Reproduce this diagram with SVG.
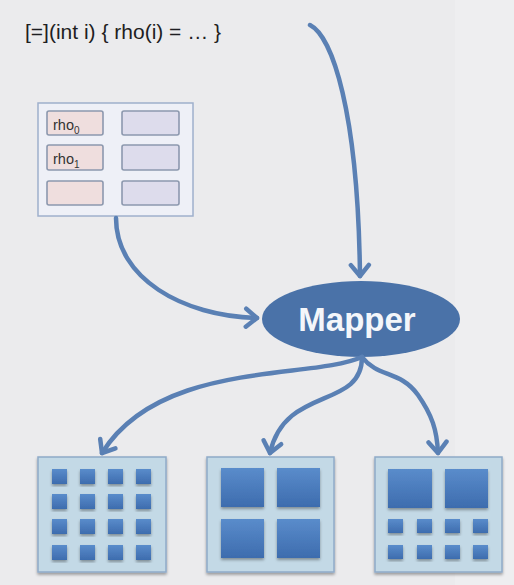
<svg xmlns="http://www.w3.org/2000/svg" width="514" height="585" viewBox="0 0 514 585">
  <defs>
    <style>
      .code { font-family: "Liberation Sans", Arial, sans-serif; font-size: 21px; fill: #1e1e22; }
      .cell-label { font-family: "Liberation Sans", Arial, sans-serif; font-size: 14.5px; fill: #333; }
      .sub { font-size: 10px; }
      .mapper-label { font-family: "Liberation Sans", Arial, sans-serif; font-size: 33px; font-weight: bold; fill: #f4f6fa; }
      .edge { fill: none; stroke: #5a80b4; stroke-width: 4.5; stroke-linecap: round; marker-end: url(#chevron); }
      .table-frame { fill: #eef0f7; stroke: #9fb0cc; stroke-width: 1.5; }
      .cell-a { fill: #efdede; stroke: #8c98ae; stroke-width: 1.6; }
      .cell-b { fill: #dddcec; stroke: #8c98ae; stroke-width: 1.6; }
      .grid { fill: #c3d9e6; stroke: #8faac8; stroke-width: 1.5; filter: url(#soft); }
      .tile { fill: url(#tileFill); filter: url(#soft); }
    </style>
    <marker id="chevron" viewBox="-14 -12 18 24" markerWidth="18" markerHeight="24" refX="0" refY="0" orient="auto" markerUnits="userSpaceOnUse">
      <path d="M-11,-9 L0,0 L-11,9" fill="none" stroke="#5a80b4" stroke-width="4.5" stroke-linecap="round" stroke-linejoin="round"/>
    </marker>
    <linearGradient id="tileFill" x1="0" y1="0" x2="0" y2="1">
      <stop offset="0" stop-color="#5a8ccb"/>
      <stop offset="1" stop-color="#3d6cae"/>
    </linearGradient>
    <filter id="soft" x="-20%" y="-20%" width="140%" height="140%">
      <feGaussianBlur in="SourceAlpha" stdDeviation="1.5"/>
      <feOffset dx="0" dy="2" result="off"/>
      <feComponentTransfer><feFuncA type="linear" slope="0.35"/></feComponentTransfer>
      <feMerge><feMergeNode/><feMergeNode in="SourceGraphic"/></feMerge>
    </filter>
  </defs>

  <!-- backdrop -->
  <rect x="0" y="0" width="514" height="585" fill="#ebebed"/>
  <rect x="455" y="0" width="59" height="585" fill="#eeeef0"/>

  <!-- lambda source text -->
  <g id="lambda">
    <text class="code" x="25" y="39">[=](int i) { rho(i) = … }</text>
  </g>

  <!-- region table -->
  <g id="region">
    <rect class="table-frame" x="38" y="103" width="155" height="113"/>
    <rect class="cell-a" x="47" y="111" width="56" height="24" rx="2"/>
    <rect class="cell-a" x="47" y="145" width="56" height="25" rx="2"/>
    <rect class="cell-a" x="47" y="181" width="56" height="24" rx="2"/>
    <rect class="cell-b" x="122" y="111" width="57" height="24" rx="2"/>
    <rect class="cell-b" x="122" y="145" width="57" height="25" rx="2"/>
    <rect class="cell-b" x="122" y="181" width="57" height="24" rx="2"/>
    <text class="cell-label" x="53" y="130">rho<tspan class="sub" dy="4">0</tspan></text>
    <text class="cell-label" x="53" y="164">rho<tspan class="sub" dy="4">1</tspan></text>
  </g>

  <!-- mapper -->
  <g id="mapper">
    <ellipse cx="361" cy="319" rx="99" ry="38" fill="#4a72a8"/>
    <text class="mapper-label" x="357" y="331" text-anchor="middle">Mapper</text>
  </g>

  <!-- fine-grained mapping: 4x4 tiles -->
  <g id="layout-fine">
    <rect class="grid" x="38" y="457" width="128" height="115"/>
    <rect class="tile" x="52" y="469" width="15" height="15"/>
    <rect class="tile" x="80" y="469" width="15" height="15"/>
    <rect class="tile" x="108" y="469" width="15" height="15"/>
    <rect class="tile" x="136" y="469" width="15" height="15"/>
    <rect class="tile" x="52" y="494" width="15" height="15"/>
    <rect class="tile" x="80" y="494" width="15" height="15"/>
    <rect class="tile" x="108" y="494" width="15" height="15"/>
    <rect class="tile" x="136" y="494" width="15" height="15"/>
    <rect class="tile" x="52" y="519" width="15" height="15"/>
    <rect class="tile" x="80" y="519" width="15" height="15"/>
    <rect class="tile" x="108" y="519" width="15" height="15"/>
    <rect class="tile" x="136" y="519" width="15" height="15"/>
    <rect class="tile" x="52" y="545" width="15" height="15"/>
    <rect class="tile" x="80" y="545" width="15" height="15"/>
    <rect class="tile" x="108" y="545" width="15" height="15"/>
    <rect class="tile" x="136" y="545" width="15" height="15"/>
  </g>

  <!-- coarse mapping: 2x2 tiles -->
  <g id="layout-coarse">
    <rect class="grid" x="207" y="457" width="127" height="115"/>
    <rect class="tile" x="221" y="468" width="43" height="39"/>
    <rect class="tile" x="277" y="468" width="43" height="39"/>
    <rect class="tile" x="221" y="519" width="43" height="39"/>
    <rect class="tile" x="277" y="519" width="43" height="39"/>
  </g>

  <!-- mixed mapping: 2 large + 8 small tiles -->
  <g id="layout-mixed">
    <rect class="grid" x="375" y="457" width="127" height="115"/>
    <rect class="tile" x="388" y="469" width="44" height="39"/>
    <rect class="tile" x="445" y="469" width="43" height="39"/>
    <rect class="tile" x="388" y="519" width="15" height="14"/>
    <rect class="tile" x="417" y="519" width="15" height="14"/>
    <rect class="tile" x="445" y="519" width="15" height="14"/>
    <rect class="tile" x="473" y="519" width="15" height="14"/>
    <rect class="tile" x="388" y="545" width="15" height="14"/>
    <rect class="tile" x="417" y="545" width="15" height="14"/>
    <rect class="tile" x="445" y="545" width="15" height="14"/>
    <rect class="tile" x="473" y="545" width="15" height="14"/>
  </g>

  <!-- connectors -->
  <g id="connectors">
    <path class="edge" d="M310,25 C332,36 358,110 360,276"/>
    <path class="edge" d="M116,218 C116,278 182,316 257,318"/>
    <path class="edge" d="M362,357 C310,380 160,360 102,453"/>
    <path class="edge" d="M362,357 C362,410 285,385 270,453"/>
    <path class="edge" d="M362,357 C378,378 400,370 418,395 C432,415 437,430 438,453"/>
  </g>
</svg>
